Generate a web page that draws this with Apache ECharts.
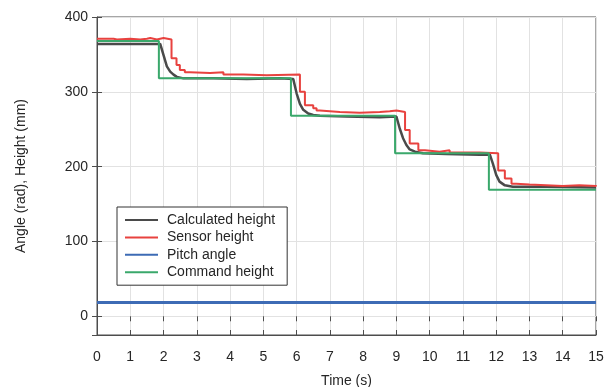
<!DOCTYPE html>
<html>
<head>
<meta charset="utf-8">
<script src="https://cdn.jsdelivr.net/npm/echarts@6/dist/echarts.min.js"></script>
<style>
	html, body { margin: 0; padding: 0; background: #fff; }
	#chart { width: 605px; height: 387px; }
</style>
</head>
<body>
<div id="chart"></div>
<script>
// 计算高度
const calcTime = [0, 1.9, 2.0, 2.1, 2.2, 2.3, 2.4, 2.6, 3.5, 4.5, 5.5, 5.9, 6.0, 6.1, 6.2, 6.35, 6.5, 6.7, 7.5, 8.5, 9.0, 9.1, 9.2, 9.3, 9.4, 9.56, 9.8, 10.5, 11.5, 11.81, 11.9, 12.0, 12.1, 12.26, 12.5, 13.5, 15];
const calcHeight = [364, 364, 349, 334, 327, 323, 320, 318, 318, 317, 318, 317, 298, 284, 276, 271, 269, 268, 267, 266, 267, 251, 238, 229, 223, 220, 218, 217, 216, 216, 204, 189, 180, 175, 173, 173, 172];
// 传感器高度
const sensorTime = [0, 0.5, 0.6, 1.0, 1.3, 1.5, 1.6, 1.8, 1.9, 2.0, 2.24, 2.39, 2.49, 2.64, 2.79, 3.4, 3.8, 4.4, 5.1, 6.1, 6.25, 6.5, 6.6, 6.7, 7.3, 7.9, 8.5, 8.8, 9.0, 9.26, 9.4, 9.66, 9.86, 10.3, 10.6, 11.0, 11.5, 12.06, 12.26, 12.46, 12.6, 13.0, 13.5, 14.0, 14.5, 15];
const sensorHeight = [371, 370, 371, 370, 371, 372, 370, 371, 372, 370, 345, 336, 329, 326, 325, 326, 323, 322, 323, 300, 282, 278, 275, 273, 272, 273, 274, 275, 273, 249, 231, 222, 220, 222, 219, 219, 218, 195, 184, 177, 176, 175, 174, 175, 174, 175];
// 俯仰角
const pitchTime = [0, 1, 2, 3, 4, 5, 6, 7, 8, 9, 10, 11, 12, 13, 14, 15];
const pitchAngle = [18.5, 18.5, 18.5, 18.5, 18.5, 18.5, 18.5, 18.5, 18.5, 18.5, 18.5, 18.5, 18.5, 18.5, 18.5, 18.5];
// 指令高度
const cmdTime = [0, 1.86, 5.83, 8.96, 11.78, 15];
const cmdHeight = [368, 318, 268, 218, 169, 169];

const names = ['Calculated height', 'Sensor height', 'Pitch angle', 'Command height'];
const colors = ['#4a4a4a', '#e8423f', '#3d6bb5', '#3aa86b'];

const zip = (t, v) => t.map((x, i) => [x, v[i]]);

const chart = echarts.init(document.getElementById('chart'));
const font = 'Liberation Sans';
const textColor = '#262626';

const lineSeries = (name, data, color, width, z, step) => ({
	name: name,
	type: 'line',
	data: data,
	step: step || false,
	symbol: 'none',
	showSymbol: false,
	color: color,
	lineStyle: { color: color, width: width },
	z: z,
	animation: false
});

const option = {
	backgroundColor: '#fff',
	textStyle: { fontFamily: font },
	grid: {
		left: 97, right: 9, top: 17, bottom: 52,
		outerBoundsMode: 'none',
		show: true, borderColor: '#4d4d4d', borderWidth: 1, backgroundColor: 'transparent'
	},
	legend: {
		orient: 'vertical',
		left: 117, top: 207,
		data: names,
		icon: 'rect',
		itemWidth: 33, itemHeight: 2, itemGap: 3.4,
		padding: [6, 12, 6, 8],
		borderColor: '#333', borderWidth: 1,
		backgroundColor: '#fff',
		textStyle: { fontFamily: font, fontSize: 14, color: textColor, padding: [0, 0, 0, 4] },
		z: 10
	},
	xAxis: [{
		type: 'value', min: 0, max: 15, interval: 1,
		name: 'Time (s)', nameLocation: 'middle', nameGap: 39,
		nameTextStyle: { fontFamily: font, fontSize: 14, color: textColor },
		axisLine: { onZero: false, lineStyle: { color: '#4d4d4d' } },
		axisTick: { inside: true, length: 5, lineStyle: { color: '#4d4d4d' } },
		axisLabel: { fontFamily: font, fontSize: 14, color: textColor, margin: 15 },
		splitLine: { show: true, lineStyle: { color: '#e2e2e2' } }
	}, {
		type: 'value', min: 0, max: 15, interval: 1, position: 'top',
		axisLine: { show: false },
		axisTick: { inside: true, length: 5, lineStyle: { color: '#4d4d4d' } },
		axisLabel: { show: false }, splitLine: { show: false }
	}],
	yAxis: [{
		type: 'value', min: -25, max: 400,
		name: 'Angle (rad), Height (mm)', nameLocation: 'middle', nameGap: 69,
		nameTextStyle: { fontFamily: font, fontSize: 14, color: textColor },
		axisLine: { show: true, lineStyle: { color: '#4d4d4d' } },
		axisTick: { inside: true, length: 5, lineStyle: { color: '#4d4d4d' } },
		axisLabel: { fontFamily: font, fontSize: 14, color: textColor, margin: 9, showMinLabel: false },
		splitLine: { show: true, lineStyle: { color: '#e2e2e2' } }
	}, {
		type: 'value', min: -25, max: 400, position: 'right',
		axisLine: { show: false },
		axisTick: { inside: true, length: 5, lineStyle: { color: '#4d4d4d' } },
		axisLabel: { show: false }, splitLine: { show: false }
	}],
	series: [
		lineSeries(names[0], zip(calcTime, calcHeight), colors[0], 2.5, 2),
		lineSeries(names[1], zip(sensorTime, sensorHeight), colors[1], 2, 3, 'end'),
		lineSeries(names[2], zip(pitchTime, pitchAngle), colors[2], 3, 4),
		lineSeries(names[3], zip(cmdTime, cmdHeight), colors[3], 2, 5, 'end')
	]
};

chart.setOption(option);
window.addEventListener('resize', () => {
	chart.resize();
});
</script>
</body>
</html>
